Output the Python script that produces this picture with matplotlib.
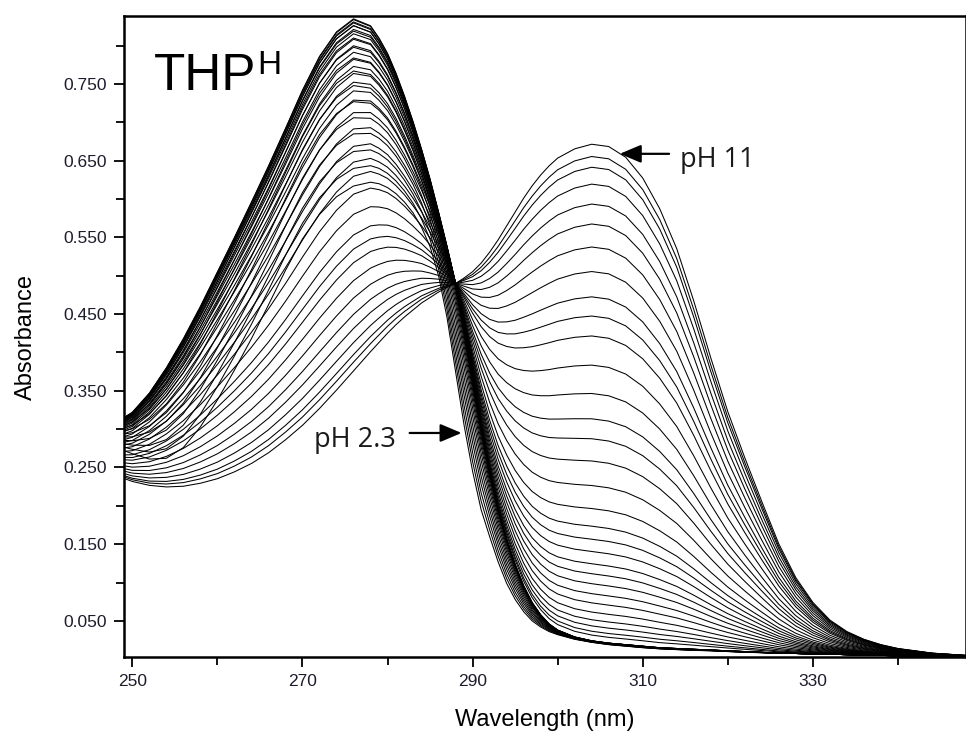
import matplotlib
matplotlib.use("Agg")
import matplotlib.pyplot as plt
import numpy as np

# wavelength grid (nm)
wl = [249, 250, 252, 254, 256, 258, 260, 262, 264, 266, 268, 270, 272, 274, 276, 278,
      279, 280, 281, 282, 283, 284, 285, 286, 287, 288, 289, 290, 291, 292, 293, 294,
      295, 296, 297, 298, 299, 300, 302, 304, 306, 308, 310, 312, 314, 316, 318, 320,
      322, 324, 326, 328, 330, 332, 334, 336, 338, 340, 344, 348]

# pH 2.3 spectrum (lowest peak of the acid group)
spec_low = [0.272, 0.268, 0.261, 0.262, 0.276, 0.303, 0.338, 0.377, 0.418, 0.462, 0.507, 0.548,
            0.580, 0.603, 0.617, 0.622, 0.620, 0.615, 0.607, 0.596, 0.582, 0.563, 0.538, 0.500,
            0.445, 0.375, 0.305, 0.245, 0.195, 0.160, 0.127, 0.099, 0.078, 0.062, 0.050, 0.042,
            0.036, 0.032, 0.026, 0.022, 0.019, 0.017, 0.015, 0.0135, 0.0125, 0.0115, 0.011, 0.010,
            0.009, 0.0085, 0.008, 0.0075, 0.007, 0.0065, 0.006, 0.0055, 0.005, 0.0045, 0.004, 0.0035]

# highest acid spectrum (peak ~276 nm)
spec_top = [0.315, 0.322, 0.347, 0.380, 0.418, 0.460, 0.505, 0.550, 0.596, 0.643, 0.692, 0.742,
            0.786, 0.818, 0.835, 0.826, 0.810, 0.790, 0.764, 0.734, 0.701, 0.665, 0.626, 0.583,
            0.538, 0.490, 0.430, 0.365, 0.302, 0.246, 0.198, 0.158, 0.124, 0.096, 0.074, 0.058,
            0.046, 0.038, 0.029, 0.024, 0.021, 0.019, 0.017, 0.015, 0.014, 0.013, 0.012, 0.011,
            0.010, 0.009, 0.008, 0.0075, 0.007, 0.0065, 0.006, 0.0055, 0.005, 0.0045, 0.004, 0.0035]

# pH 11 spectrum
spec_base = [0.236, 0.232, 0.227, 0.225, 0.226, 0.230, 0.236, 0.245, 0.256, 0.270, 0.287, 0.306,
             0.328, 0.352, 0.377, 0.402, 0.414, 0.426, 0.437, 0.447, 0.456, 0.465, 0.472, 0.479,
             0.485, 0.490, 0.497, 0.505, 0.516, 0.530, 0.546, 0.564, 0.582, 0.600, 0.616, 0.630,
             0.642, 0.652, 0.664, 0.670, 0.667, 0.653, 0.626, 0.586, 0.534, 0.466, 0.392, 0.322,
             0.262, 0.205, 0.150, 0.106, 0.074, 0.051, 0.036, 0.026, 0.019, 0.014, 0.008, 0.005]

# absorbance read at 276 nm for the acid-range curves
a276_acid = [0.617, 0.640, 0.662, 0.685, 0.706, 0.727, 0.748, 0.767, 0.784, 0.798,
             0.810, 0.819, 0.826, 0.831, 0.834, 0.835]

# absorbance read at 305 nm for the curves of the isosbestic transition
a305_base = [0.030, 0.035, 0.042, 0.050, 0.060, 0.072, 0.084, 0.097, 0.110, 0.123,
             0.139, 0.155, 0.172, 0.195, 0.225, 0.257, 0.286, 0.312, 0.345, 0.382,
             0.420, 0.446, 0.471, 0.504, 0.536, 0.566, 0.592, 0.618, 0.640, 0.654, 0.670]

wl = np.array(wl)
lo, hi, ba = np.array(spec_low), np.array(spec_top), np.array(spec_base)

fig = plt.figure(figsize=(9.66, 7.38), dpi=100)
ax = fig.add_axes([124/966, 1-657/738, 1-124/966, (657-16)/738])

l276, h276 = np.interp(276, wl, lo), np.interp(276, wl, hi)
for a in a276_acid:
    g = (a - l276) / (h276 - l276)
    ax.plot(wl, lo + g*(hi - lo), color='k', lw=0.75)

h305, b305 = np.interp(305, wl, hi), np.interp(305, wl, ba)
for a in a305_base:
    f = (a - h305) / (b305 - h305)
    ax.plot(wl, hi + f*(ba - hi), color='k', lw=0.75)

ax.set_xlim(249.02, 348)
ax.set_ylim(0.0029, 0.8387)
ax.set_xticks([250, 270, 290, 310, 330])
ax.set_xticks([260, 280, 300, 320, 340], minor=True)
ax.set_yticks([0.05, 0.15, 0.25, 0.35, 0.45, 0.55, 0.65, 0.75])
ax.set_yticks([0.1, 0.2, 0.3, 0.4, 0.5, 0.6, 0.7, 0.8], minor=True)
ax.set_yticklabels(["%.3f" % v for v in ax.get_yticks()])
for s in ax.spines.values():
    s.set_linewidth(1.8)
ax.tick_params(which='major', length=7.5, width=1.3, labelsize=12.5, pad=5,
               labelcolor='#1c1c2c', labelfontfamily='Liberation Sans')
ax.tick_params(which='minor', length=6, width=1.3)

ax.set_xlabel("Wavelength (nm)", fontsize=17, family='Liberation Sans', labelpad=14)
ax.set_ylabel("Absorbance", fontsize=17, family='Liberation Sans', labelpad=19)

t = ax.text(0.035, 0.885, "THP", transform=ax.transAxes, fontsize=37,
            family='Liberation Sans', va='baseline')
ax.annotate("H", xy=(1, 1), xycoords=t, xytext=(1, 1), textcoords='offset points',
            fontsize=24, family='Liberation Sans', va='top', ha='left')

arrow = dict(arrowstyle='-|>,head_length=1.3,head_width=0.55', color='k', lw=1.6,
             shrinkA=0, shrinkB=0)
ax.annotate("", xy=(288.7, 0.295), xytext=(282.6, 0.295), arrowprops=arrow)
ax.text(271.3, 0.277, "pH 2.3", fontsize=19.5, family='Open Sans', color='#1a1a1a')
ax.annotate("", xy=(307.3, 0.659), xytext=(313.1, 0.659), arrowprops=arrow)
ax.text(314.4, 0.642, "pH 11", fontsize=19.5, family='Open Sans', color='#1a1a1a')

fig.savefig("out.png", dpi=100)
